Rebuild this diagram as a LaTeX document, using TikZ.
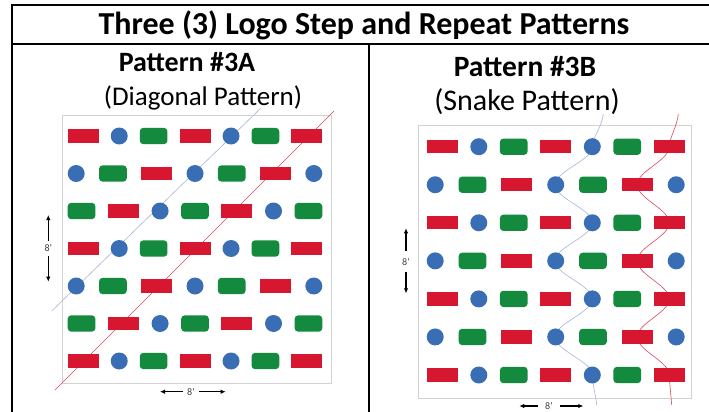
\documentclass[tikz,border=0pt]{standalone}
\usepackage{fontspec}
\setmainfont{Carlito}
\usetikzlibrary{arrows.meta}

\definecolor{logored}{HTML}{D7172F}
\definecolor{logoblue}{HTML}{3A6EB4}
\definecolor{logogreen}{HTML}{138A3E}
\definecolor{panelgray}{HTML}{D2D2D2}
\definecolor{diagblue}{HTML}{A9B6D6}
\definecolor{diagred}{HTML}{D9485C}

\tikzset{
  frame/.style={line width=1.8pt, line cap=rect},
  panel/.style={draw=panelgray, line width=0.8pt},
  logor/.style={fill=logored, minimum width=31pt, minimum height=13.3pt, inner sep=0pt},
  logoc/.style={circle, fill=logoblue, minimum size=17pt, inner sep=0pt},
  logog/.style={fill=logogreen, rounded corners=3.5pt, minimum width=27.7pt, minimum height=16.3pt, inner sep=0pt},
  bluetrace/.style={draw=diagblue, line width=0.6pt},
  redtrace/.style={draw=diagred, line width=0.6pt},
  dimarrow/.style={-{Latex[length=5pt,width=4.5pt]}, line width=1.3pt},
  dimlabel/.style={inner sep=0pt, text=black!75, font=\fontsize{10}{10}\selectfont}
}

% widths of the three logos
\def\logowidthr{31}
\def\logowidthc{17}
\def\logowidthg{27.7}
\def\rowA{r,c,g,r,c,g,r}
\def\rowB{c,g,r,c,g,r,c}
\def\rowC{g,r,c,g,r,c,g}

% one justified row of logos: name, y, left, right, sequence
\newcommand\logorow[5]{%
  \xdef\logosum{0}
  \foreach \t in #5 {\pgfmathsetmacro\logonew{\logosum+\csname logowidth\t\endcsname}\xdef\logosum{\logonew}}
  \pgfmathsetmacro\logogap{(#4-#3-\logosum)/6}
  \xdef\logocur{#3}
  \foreach \t [count=\i] in #5 {
    \pgfmathsetmacro\logox{\logocur+\csname logowidth\t\endcsname/2}
    \node[logo\t] (#1-\i) at (\logox,#2) {};
    \pgfmathsetmacro\logonext{\logocur+\csname logowidth\t\endcsname+\logogap}
    \xdef\logocur{\logonext}
  }
}

\begin{document}
\begin{tikzpicture}[x=1pt, y=-1pt]
  \useasboundingbox (0,0) rectangle (709,412);
  \fill[white] (0,0) rectangle (709,412);

  % table frame
  \draw[frame] (709,5) -- (12,5) -- (12,412);
  \draw[frame] (12,44) -- (709,44);
  \draw[frame] (369,44) -- (369,412);

  % headings
  \node[anchor=base, font=\bfseries\fontsize{32}{32}\selectfont] (title) at (364,35)
    {Three (3) Logo Step and Repeat Patterns};
  \node[anchor=base, font=\bfseries\fontsize{28}{28}\selectfont] (headA) at (187,71) {Pattern \#3A};
  \node[anchor=base, font=\fontsize{27}{27}\selectfont] (subA) at (203,105) {(Diagonal Pattern)};
  \node[anchor=base, font=\bfseries\fontsize{29.5}{30}\selectfont] (headB) at (525,77) {Pattern \#3B};
  \node[anchor=base, font=\fontsize{30}{30}\selectfont] (subB) at (527,110) {(Snake Pattern)};

  % pattern 3A
  \draw[panel] (62,115) rectangle (331,383);
  \draw[bluetrace] (51.7,311) -- (261,108);
  \draw[redtrace] (55,390) -- (334,111);
  \logorow{L1}{136}{67.7}{322.3}{\rowA}
  \logorow{L2}{173.5}{67.7}{322.3}{\rowB}
  \logorow{L3}{211}{67.7}{322.3}{\rowC}
  \logorow{L4}{248.5}{67.7}{322.3}{\rowA}
  \logorow{L5}{286}{67.7}{322.3}{\rowB}
  \logorow{L6}{323.5}{67.7}{322.3}{\rowC}
  \logorow{L7}{361}{67.7}{322.3}{\rowA}

  \node[dimlabel, minimum height=15pt] (dimLv) at (48.3,248.3) {8’};
  \coordinate (dimLvtop) at (48.3,215);
  \coordinate (dimLvbot) at (48.3,281.7);
  \draw[dimarrow] (dimLv.north) -- (dimLvtop);
  \draw[dimarrow] (dimLv.south) -- (dimLvbot);
  \node[dimlabel, minimum width=16pt] (dimLh) at (191,391.7) {8’};
  \coordinate (dimLhleft) at (160,391.7);
  \coordinate (dimLhright) at (225.7,391.7);
  \draw[dimarrow] (dimLh.west) -- (dimLhleft);
  \draw[dimarrow] (dimLh.east) -- (dimLhright);

  % pattern 3B
  \draw[panel] (418,125) rectangle (691,398);
  \draw[bluetrace] (603.3,114) .. controls (602,127) and (593,136) .. (592.3,146.7);
  \draw[bluetrace] plot[domain=146.7:375, samples=121, smooth] ({573.75+18.55*cos(4.7306*(\x-146.7))},\x);
  \draw[bluetrace] (592.3,375) .. controls (593,388) and (596,396) .. (596.7,405);
  \draw[redtrace] (678.3,114) .. controls (677,127) and (670,136) .. (669.2,146.7);
  \draw[redtrace] plot[domain=146.7:375, samples=121, smooth] ({653.25+15.95*cos(4.7306*(\x-146.7))},\x);
  \draw[redtrace] (669.2,375) .. controls (670,388) and (671,396) .. (671.7,405);
  \logorow{R1}{146.7}{426.7}{684.7}{\rowA}
  \logorow{R2}{184.75}{426.7}{684.7}{\rowB}
  \logorow{R3}{222.8}{426.7}{684.7}{\rowA}
  \logorow{R4}{260.85}{426.7}{684.7}{\rowB}
  \logorow{R5}{298.9}{426.7}{684.7}{\rowA}
  \logorow{R6}{336.95}{426.7}{684.7}{\rowB}
  \logorow{R7}{375}{426.7}{684.7}{\rowA}

  \node[dimlabel, minimum height=21pt] (dimRv) at (406,261.7) {8’};
  \coordinate (dimRvtop) at (406,228.3);
  \coordinate (dimRvbot) at (406,293.3);
  \draw[dimarrow] (dimRv.north) -- (dimRvtop);
  \draw[dimarrow] (dimRv.south) -- (dimRvbot);
  \node[dimlabel, minimum width=22pt] (dimRh) at (549,406) {8’};
  \coordinate (dimRhleft) at (519.3,406);
  \coordinate (dimRhright) at (583.3,406);
  \draw[dimarrow] (dimRh.west) -- (dimRhleft);
  \draw[dimarrow] (dimRh.east) -- (dimRhright);
\end{tikzpicture}
\end{document}
